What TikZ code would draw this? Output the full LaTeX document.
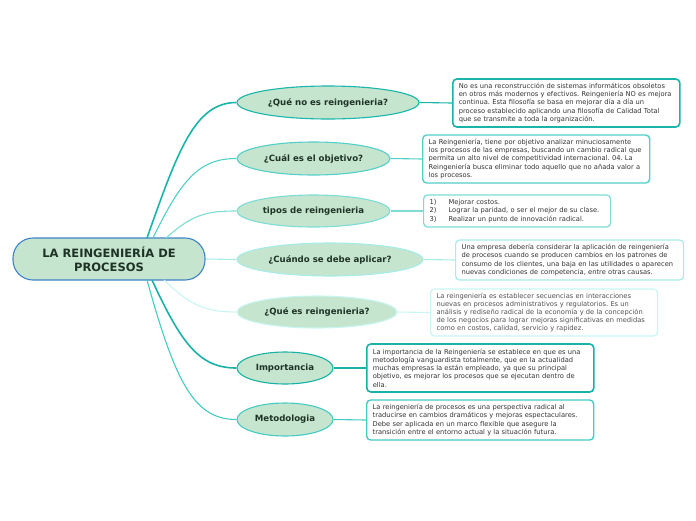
\documentclass[tikz,border=0pt]{standalone}
\usepackage{fontspec}
\setmainfont{DejaVu Sans}
\frenchspacing
\usetikzlibrary{shapes.geometric}
\definecolor{cfill}{HTML}{C6E5CE}
\definecolor{cblue}{HTML}{3D84C6}
\definecolor{tA}{HTML}{19B5AB}
\definecolor{tB}{HTML}{52CFC8}
\definecolor{tC}{HTML}{7DDCD6}
\definecolor{tD}{HTML}{A6ECE8}
\definecolor{tE}{HTML}{C8F6F3}
\definecolor{tF}{HTML}{18B2A8}
\definecolor{tG}{HTML}{45CBC3}
\definecolor{ttxt}{HTML}{1E3326}
\definecolor{btxt}{HTML}{333333}
\tikzset{
  branch/.style={ellipse, fill=cfill, inner sep=0pt, text=ttxt,
    font=\fontsize{8.6}{10}\selectfont\bfseries},
  infobox/.style={rectangle, rounded corners=4pt, fill=white, anchor=west,
    align=left, inner xsep=6pt, inner ysep=0pt, text=btxt,
    font=\fontsize{6.7}{8.2}\selectfont},
  thick1/.style={line width=1.6pt},
  thin1/.style={line width=1.1pt},
}
\begin{document}
\begin{tikzpicture}[x=1pt,y=-1pt]
\useasboundingbox (0,0) rectangle (696,520);
% central
\node[rectangle, rounded corners=20pt, fill=cfill, draw=cblue, line width=1.1pt,
  minimum width=192pt, minimum height=42pt, align=center, text=ttxt,
  font=\fontsize{11.5}{13.5}\selectfont\bfseries] (c) at (109,259)
  {LA REINGENIERÍA DE\\PROCESOS};
\coordinate (s1) at (147,238);
\coordinate (s2) at (153,238);
\coordinate (s3) at (166,238);
\coordinate (s5) at (164,280);
\coordinate (s6) at (152,280);
\coordinate (s7) at (147,280);
% branches
\node[branch, draw=tA, thin1, minimum width=182pt, minimum height=33pt] (b1) at (328,102.5) {¿Qué no es reingenieria?};
\node[branch, draw=tB, thin1, minimum width=153pt, minimum height=33pt] (b2) at (313.5,158.5) {¿Cuál es el objetivo?};
\node[branch, draw=tC, thin1, minimum width=153pt, minimum height=32pt] (b3) at (313.5,211) {tipos de reingenieria};
\node[branch, draw=tD, thin1, minimum width=186pt, minimum height=33pt] (b4) at (330,259.5) {¿Cuándo se debe aplicar?};
\node[branch, draw=tE, thin1, minimum width=160pt, minimum height=32pt] (b5) at (317,312) {¿Qué es reingenieria?};
\node[branch, draw=tF, thin1, minimum width=96pt, minimum height=32pt] (b6) at (285,368) {Importancia};
\node[branch, draw=tG, thin1, minimum width=96pt, minimum height=33pt] (b7) at (285,419.5) {Metodologia};
% curves
\draw[tA, thick1] (s1) .. controls (178,150) and (195,102.5) .. (b1.west);
\draw[tB, thin1] (s2) .. controls (182,178) and (200,158.5) .. (b2.west);
\draw[tC, thin1] (s3) .. controls (192,215) and (205,211) .. (b3.west);
\draw[tD, thin1] (c.east) -- (b4.west);
\draw[tE, thin1] (s5) .. controls (190,305) and (205,312) .. (b5.west);
\draw[tF, thick1] (s6) .. controls (182,345) and (200,368) .. (b6.west);
\draw[tG, thin1] (s7) .. controls (176,385) and (195,419.5) .. (b7.west);
% boxes
\node[infobox, draw=tA, line width=1.6pt, minimum width=227pt, minimum height=48pt, text width=215pt] (x1) at (452,103)
{No es una reconstrucción de sistemas informáticos obsoletos\\en otros más modernos y efectivos. Reingeniería NO es mejora\\continua. Esta filosofía se basa en mejorar día a día un\\proceso establecido aplicando una filosofía de Calidad Total\\que se transmite a toda la organización.};
\node[infobox, draw=tB, line width=1.4pt, minimum width=227pt, minimum height=48pt, text width=215pt] (x2) at (422,159)
{La Reingeniería, tiene por objetivo analizar minuciosamente\\los procesos de las empresas, buscando un cambio radical que\\permita un alto nivel de competitividad internacional. 04. La\\Reingeniería busca eliminar todo aquello que no añada valor a\\los procesos.};
\node[infobox, draw=tC, line width=1.2pt, minimum width=187pt, minimum height=32pt, text width=175pt] (x3) at (423,211)
{\makebox[19pt][l]{1)}Mejorar costos.\\\makebox[19pt][l]{2)}Lograr la paridad, o ser el mejor de su clase.\\\makebox[19pt][l]{3)}Realizar un punto de innovación radical.};
\node[infobox, draw=tD, line width=1.2pt, minimum width=228pt, minimum height=40pt, text width=216pt] (x4) at (455,260)
{Una empresa debería considerar la aplicación de reingeniería\\de procesos cuando se producen cambios en los patrones de\\consumo de los clientes, una baja en las utilidades o aparecen\\nuevas condiciones de competencia, entre otras causas.};
\node[infobox, draw=tE, line width=1.2pt, minimum width=227pt, minimum height=47pt, text width=215pt, text=btxt!85] (x5) at (430,312.5)
{La reingeniería es establecer secuencias en interacciones\\nuevas en procesos administrativos y regulatorios. Es un\\análisis y rediseño radical de la economía y de la concepción\\de los negocios para lograr mejoras significativas en medidas\\como en costos, calidad, servicio y rapidez.};
\node[infobox, draw=tF, line width=1.6pt, minimum width=227pt, minimum height=48pt, text width=215pt] (x6) at (366,368)
{La importancia de la Reingeniería se establece en que es una\\metodología vanguardista totalmente, que en la actualidad\\muchas empresas la están empleado, ya que su principal\\objetivo, es mejorar los procesos que se ejecutan dentro de\\ella.};
\node[infobox, draw=tG, line width=1.4pt, minimum width=227pt, minimum height=40pt, text width=215pt] (x7) at (366,420)
{La reingeniería de procesos es una perspectiva radical al\\traducirse en cambios dramáticos y mejoras espectaculares.\\Debe ser aplicada en un marco flexible que asegure la\\transición entre el entorno actual y la situación futura.};
% links
\draw[tA, thin1] (b1.east) -- (x1.west);
\draw[tB, thin1] (b2.east) -- (x2.west);
\draw[tC, thin1] (b3.east) -- (x3.west);
\draw[tD, thin1] (b4.east) -- (x4.west);
\draw[tE, thin1] (b5.east) -- (x5.west);
\draw[tF, thin1] (b6.east) -- (x6.west);
\draw[tG, thin1] (b7.east) -- (x7.west);
\end{tikzpicture}
\end{document}
